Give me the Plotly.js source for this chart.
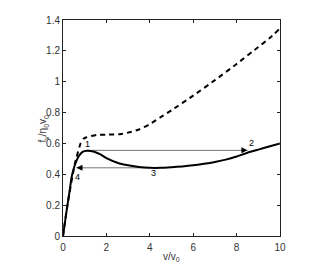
<!DOCTYPE html>
<html><head><meta charset="utf-8">
<script src="https://cdn.plot.ly/plotly-3.0.1.min.js"></script>
<style>html,body{margin:0;padding:0;background:#fff;}#chart{width:332px;height:266px;}</style>
</head><body><div id="chart"></div>
<script>
const solidX = [0, 0.17, 0.29, 0.40, 0.52, 0.71, 0.9, 1.1, 1.4, 1.7, 2.0, 2.6, 3.0, 3.5, 4.0, 4.5, 5.0, 5.5, 6.0, 6.5, 7.0, 7.5, 8.0, 8.5, 9.0, 9.5, 10.0];
const solidY = [0, 0.168, 0.277, 0.384, 0.449, 0.514, 0.545, 0.553, 0.548, 0.53, 0.505, 0.47, 0.458, 0.447, 0.442, 0.442, 0.446, 0.451, 0.458, 0.468, 0.48, 0.495, 0.515, 0.54, 0.56, 0.58, 0.60];
const dashX = [0, 0.17, 0.3, 0.43, 0.55, 0.63, 0.81, 0.95, 1.09, 1.55, 2.0, 2.63, 3.0, 3.5, 4.0, 4.5, 5.0, 6.0, 7.0, 8.0, 9.0, 9.5, 10.0];
const dashY = [0, 0.17, 0.28, 0.384, 0.47, 0.514, 0.60, 0.63, 0.64, 0.655, 0.657, 0.66, 0.67, 0.69, 0.725, 0.77, 0.815, 0.91, 1.01, 1.115, 1.225, 1.28, 1.345];
const jumpUpX = [1.1, 8.5], jumpUpY = [0.555, 0.555];
const jumpDownX = [4.0, 0.62], jumpDownY = [0.442, 0.442];
const pointLabels = ['1', '2', '3', '4'];
const labelX = [1.14, 8.7, 4.15, 0.68];
const labelY = [0.594, 0.603, 0.408, 0.382];
const xTicks = [0, 2, 4, 6, 8, 10];
const yTicks = [0, 0.2, 0.4, 0.6, 0.8, 1, 1.2, 1.4];
const xTitle = 'v/v<sub>0</sub>';
const yTitle = 'f<sub>v</sub>/η<sub>0</sub>v<sub>0</sub>';

const font = {family: 'Liberation Sans, Arial', size: 10, color: '#333'};
const traces = [
  {x: jumpUpX, y: jumpUpY, mode: 'lines', line: {color: '#777', width: 1}, hoverinfo: 'skip'},
  {x: jumpDownX, y: jumpDownY, mode: 'lines', line: {color: '#777', width: 1}, hoverinfo: 'skip'},
  {x: dashX, y: dashY, mode: 'lines', line: {color: '#000', width: 2, dash: '5px,4px', shape: 'spline', smoothing: 0.5}},
  {x: solidX, y: solidY, mode: 'lines', line: {color: '#000', width: 2, shape: 'spline', smoothing: 0.5}}
];
const ann = pointLabels.map((t, i) => ({x: labelX[i], y: labelY[i], text: t, showarrow: false, font: {family: 'Liberation Sans, Arial', size: 9, color: '#000'}, xref: 'x', yref: 'y'}));
ann.push({x: jumpUpX[1], y: jumpUpY[1], ax: jumpUpX[1] - 0.35, ay: jumpUpY[1], axref: 'x', ayref: 'y', xref: 'x', yref: 'y', text: '', showarrow: true, arrowhead: 2, arrowsize: 1.2, arrowwidth: 1, arrowcolor: '#000'});
ann.push({x: jumpDownX[1], y: jumpDownY[1], ax: jumpDownX[1] + 0.35, ay: jumpDownY[1], axref: 'x', ayref: 'y', xref: 'x', yref: 'y', text: '', showarrow: true, arrowhead: 2, arrowsize: 1.2, arrowwidth: 1, arrowcolor: '#000'});
ann.push({xref: 'paper', yref: 'paper', x: 0.5, y: -0.095, text: xTitle, showarrow: false, font: font, xanchor: 'center', yanchor: 'middle'});
ann.push({xref: 'paper', yref: 'paper', x: -0.09, y: 0.5, text: yTitle, showarrow: false, font: font, textangle: -90, xanchor: 'center', yanchor: 'middle'});

const axisCommon = {showgrid: false, zeroline: false, showline: true, linecolor: '#222', linewidth: 1, mirror: 'ticks', ticks: 'inside', ticklen: 3, tickcolor: '#222', tickfont: font};
const layout = {
  width: 332, height: 266,
  margin: {l: 63, r: 52, t: 20, b: 30},
  paper_bgcolor: '#fff', plot_bgcolor: '#fff',
  showlegend: false,
  xaxis: Object.assign({}, axisCommon, {range: [0, 10], tickvals: xTicks, ticktext: xTicks.map(String), ticklabelstandoff: 2}),
  yaxis: Object.assign({}, axisCommon, {range: [0, 1.4], tickvals: yTicks, ticktext: yTicks.map(String)}),
  annotations: ann
};
Plotly.newPlot('chart', traces, layout, {staticPlot: true, displayModeBar: false});
</script></body></html>
